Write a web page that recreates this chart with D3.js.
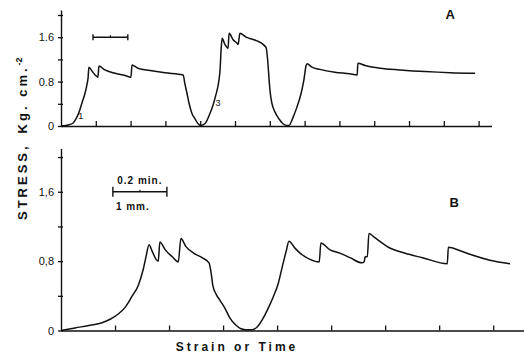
<!DOCTYPE html>
<html><head><meta charset="utf-8">
<script src="https://cdn.jsdelivr.net/npm/d3@7"></script>
<style>
html,body{margin:0;padding:0;background:#fff;}
svg{display:block;}
text{font-family:"Liberation Sans",Arial,sans-serif;fill:#111;}
</style></head>
<body>
<svg id="chart" width="524" height="357"></svg>
<script>
// Strain (mm; 1 mm = 0.2 min) and stress (Kg. cm^-2)
const strainA = [0,0.14,0.26,0.34,0.43,0.52,0.60,0.69,0.75,0.78,0.80,0.89,0.98,1.06,1.09,1.26,1.55,1.84,2.01,2.04,2.21,2.56,2.99,3.51,3.56,3.62,3.68,3.76,3.85,3.94,4.02,4.08,4.17,4.25,4.37,4.45,4.54,4.57,4.60,4.63,4.71,4.80,4.83,4.94,5.06,5.09,5.14,5.32,5.57,5.89,5.95,5.98,6.01,6.06,6.15,6.26,6.38,6.47,6.55,6.67,6.78,6.90,6.98,7.04,7.07,7.21,7.44,7.87,8.30,8.51,8.53,8.74,9.17,9.74,10.46,11.18,11.90];
const stressA = [0,0.01,0.03,0.05,0.13,0.25,0.41,0.59,0.76,0.88,1.06,0.99,0.92,0.88,1.08,1.01,0.95,0.91,0.88,1.10,1.04,1.00,0.96,0.92,0.76,0.59,0.41,0.23,0.13,0.04,0.01,0.02,0.07,0.18,0.38,0.56,0.83,1.01,1.37,1.58,1.47,1.40,1.67,1.56,1.49,1.47,1.67,1.60,1.55,1.42,1.10,0.83,0.61,0.41,0.25,0.13,0.04,0.01,0.01,0.16,0.34,0.59,0.83,1.08,1.12,1.06,1.02,0.97,0.94,0.92,1.13,1.09,1.04,1.01,0.98,0.96,0.95];

const strainB = [0,0.26,0.54,0.76,0.91,1.06,1.19,1.31,1.43,1.52,1.57,1.63,1.69,1.76,1.80,1.83,1.93,2.06,2.17,2.22,2.31,2.46,2.61,2.74,2.78,2.81,2.87,2.94,3.04,3.13,3.24,3.33,3.41,3.54,3.63,3.74,3.83,3.93,4.02,4.09,4.17,4.22,4.33,4.43,4.61,4.78,4.81,4.98,5.17,5.35,5.57,5.61,5.63,5.67,5.70,5.81,6.06,6.37,6.69,7.15,7.17,7.39,7.61,7.94,8.31];
const stressB = [0,0.03,0.06,0.09,0.13,0.19,0.27,0.39,0.52,0.70,0.84,0.99,0.91,0.82,0.80,1.02,0.93,0.85,0.79,1.06,0.97,0.89,0.84,0.78,0.66,0.52,0.42,0.35,0.25,0.14,0.06,0.02,0.01,0.01,0.04,0.14,0.25,0.39,0.54,0.72,0.92,1.03,0.95,0.89,0.82,0.79,1.01,0.93,0.89,0.84,0.78,0.79,0.85,0.85,1.12,1.07,0.96,0.89,0.84,0.77,0.96,0.92,0.87,0.81,0.77];

const yTicks = [0,0.4,0.8,1.2,1.6,2.0];
const yLabelsA = {0:"0",0.8:"0.8",1.6:"1.6"};
const yLabelsB = {0:"0",0.8:"0,8",1.6:"1,6"};
const xTicksA = [1,2,3,4,5,6,7,8,9,10,11,12];
const xTicksB = [1,2,3,4,5,6,7,8];

const svg = d3.select("#chart");

const xA = d3.scaleLinear().domain([0,12.37]).range([61,491.5]);
const yA = d3.scaleLinear().domain([0,2.09]).range([126,10]);
const xB = d3.scaleLinear().domain([0,8.57]).range([61,524]);
const yB = d3.scaleLinear().domain([0,2.1]).range([330.5,148.4]);

function panel(x, y, xticks, labels, sx, sy, letter, letterPos) {
  const g = svg.append("g");
  g.append("g").attr("transform",`translate(0,${y(0)})`)
    .call(d3.axisBottom(x).tickValues(xticks).tickSizeInner(-5).tickSizeOuter(0).tickFormat(""))
    .call(s=>{s.select(".domain").attr("stroke","#111").attr("stroke-width",1.4);
              s.selectAll(".tick line").attr("stroke","#111").attr("stroke-width",1.3);});
  g.append("g").attr("transform",`translate(${x(0)},0)`)
    .call(d3.axisLeft(y).tickValues(yTicks).tickSizeInner(3).tickSizeOuter(0).tickPadding(4)
      .tickFormat(d=>labels[d]!==undefined?labels[d]:""))
    .call(s=>{s.select(".domain").attr("stroke","#111").attr("stroke-width",1.4);
              s.selectAll(".tick line").attr("stroke","#111").attr("stroke-width",1.3).attr("x2",-3).attr("x1",2);
              s.selectAll(".tick text").attr("font-size",11).attr("fill","#111")
                .attr("font-family","Liberation Sans, Arial, sans-serif");});
  const pts = sx.map((v,i)=>[v, sy[i]]);
  g.append("path").datum(pts)
    .attr("fill","none").attr("stroke","#111").attr("stroke-width",1.5)
    .attr("stroke-linejoin","round")
    .attr("d", d3.line().x(d=>x(d[0])).y(d=>y(d[1])).curve(d3.curveMonotoneX));
  g.append("text").attr("x",x(letterPos[0])).attr("y",y(letterPos[1]))
    .attr("text-anchor","middle").attr("dominant-baseline","central")
    .attr("font-size",13).attr("font-weight","bold").text(letter);
  return g;
}

const gA = panel(xA,yA,xTicksA,yLabelsA,strainA,stressA,"A",[11.18,2.0]);
const gB = panel(xB,yB,xTicksB,yLabelsB,strainB,stressB,"B",[7.28,1.48]);

function scaleBar(g,x,y,x0,cap){
  const yy = y(1.6);
  g.append("line").attr("x1",x(x0)).attr("x2",x(x0+1)).attr("y1",yy).attr("y2",yy)
    .attr("stroke","#111").attr("stroke-width",1.4);
  [x0,x0+1].forEach(v=>g.append("line").attr("x1",x(v)).attr("x2",x(v))
    .attr("y1",yy-cap).attr("y2",yy+cap).attr("stroke","#111").attr("stroke-width",1.4));
  g.append("line").attr("x1",x(x0+0.5)).attr("x2",x(x0+0.5)).attr("y1",yy-2).attr("y2",yy)
    .attr("stroke","#111").attr("stroke-width",1.2);
}
scaleBar(gA,xA,yA,0.92,3);
scaleBar(gB,xB,yB,0.96,5);
gB.append("text").attr("x",xB(1.46)).attr("y",yB(1.6)-8).attr("text-anchor","middle")
  .attr("font-size",10).attr("font-weight","bold").attr("letter-spacing",1).text("0.2 min.");
gB.append("text").attr("x",xB(1.33)).attr("y",yB(1.6)+18).attr("text-anchor","middle")
  .attr("font-size",10).attr("font-weight","bold").attr("letter-spacing",1).text("1 mm.");

gA.append("text").attr("x",xA(0.57)).attr("y",yA(0.18)).attr("text-anchor","middle")
  .attr("dominant-baseline","central").attr("font-size",9).attr("font-family","Liberation Serif, serif").text("1");
gA.append("text").attr("x",xA(4.51)).attr("y",yA(0.41)).attr("text-anchor","middle")
  .attr("dominant-baseline","central").attr("font-size",9).attr("font-family","Liberation Serif, serif").text("3");

const yt = svg.append("text").attr("transform","translate(27,220) rotate(-90)")
  .attr("font-size",13).attr("font-weight","bold").attr("letter-spacing",3);
yt.append("tspan").text("STRESS,");
yt.append("tspan").attr("dx",10).text("Kg. cm.");
yt.append("tspan").attr("dy",-5).attr("font-size",9).attr("letter-spacing",0).text("-2");

svg.append("text").attr("x",237).attr("y",351).attr("text-anchor","middle")
  .attr("font-size",12).attr("font-weight","bold").attr("letter-spacing",3).text("Strain or Time");
</script>
</body></html>
